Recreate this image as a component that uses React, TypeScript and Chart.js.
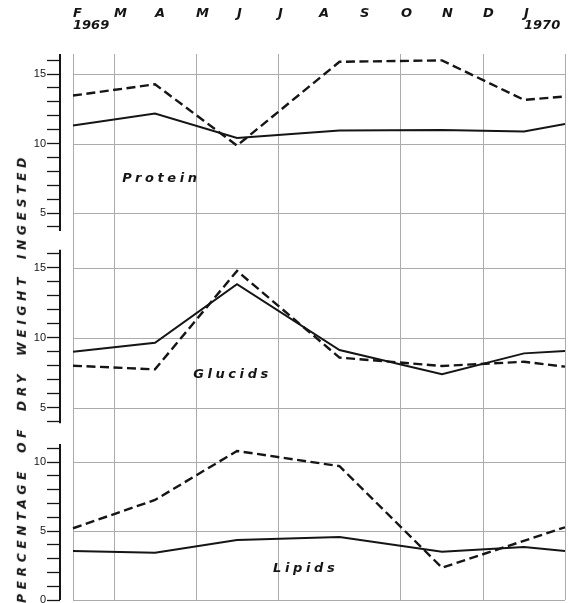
import React, { useEffect, useRef } from 'react';
import { Chart, registerables } from 'chart.js';

Chart.register(...registerables);

// ---- data ----
const MONTH_LABELS = ['F', 'M', 'A', 'M', 'J', 'J', 'A', 'S', 'O', 'N', 'D', 'J', ''];
const YEAR_LABELS = ['1969', '', '', '', '', '', '', '', '', '', '', '1970', ''];
const MONTH_TICKS = [0, 1, 2, 3, 4, 5, 6, 7, 8, 9, 10, 11, 12];
const GRID_MONTHS = [0, 1, 3, 5, 8, 10, 12];

const SAMPLE_X = [0, 2, 4, 6.5, 9, 11, 12];
const LIPID_DASHED_X = [0, 2, 4, 6.5, 9, 12];

const PROTEIN_SOLID = [11.3, 12.15, 10.4, 10.93, 10.98, 10.86, 11.4];
const PROTEIN_DASHED = [13.45, 14.26, 9.85, 15.88, 15.98, 13.14, 13.38];

const GLUCID_SOLID = [9.02, 9.66, 13.84, 9.14, 7.41, 8.9, 9.07];
const GLUCID_DASHED = [8.02, 7.76, 14.79, 8.6, 8.0, 8.3, 7.95];

const LIPID_SOLID = [3.55, 3.43, 4.35, 4.57, 3.5, 3.84, 3.55];
const LIPID_DASHED = [5.2, 7.25, 10.8, 9.7, 2.34, 5.27];

const PROTEIN_TICKS = [4, 5, 6, 7, 8, 9, 10, 11, 12, 13, 14, 15, 16];
const GLUCID_TICKS = [4, 5, 6, 7, 8, 9, 10, 11, 12, 13, 14, 15, 16];
const LIPID_TICKS = [0, 1, 2, 3, 4, 5, 6, 7, 8, 9, 10, 11];
const GRID_VALUES = [0, 5, 10, 15];

const TITLE = 'PERCENTAGE OF DRY WEIGHT INGESTED';

// ---- styles ----
const INK = '#151515';
const GRID = '#ababab';
const LABEL_FONT = '"DejaVu Sans", sans-serif';

const panelPlugin = {
  id: 'panelDecor',
  beforeDatasetsDraw(chart: any, _args: any, opts: any) {
    const { ctx, chartArea } = chart;
    const xs = chart.scales.x;
    const ys = chart.scales.y;
    const x0 = xs.getPixelForValue(0);
    ctx.save();
    ctx.strokeStyle = GRID;
    ctx.lineWidth = 1;
    for (const v of opts.hLines) {
      if (v < ys.min || v > ys.max) continue;
      const y = Math.round(ys.getPixelForValue(v)) + 0.5;
      ctx.beginPath();
      ctx.moveTo(x0, y);
      ctx.lineTo(chartArea.right, y);
      ctx.stroke();
    }
    ctx.strokeStyle = INK;
    ctx.lineWidth = 2;
    ctx.beginPath();
    ctx.moveTo(chartArea.left, ys.getPixelForValue(opts.axisMax));
    ctx.lineTo(chartArea.left, ys.getPixelForValue(opts.axisMin));
    ctx.stroke();
    ctx.font = `italic bold 13px ${LABEL_FONT}`;
    (ctx as any).letterSpacing = '3.6px';
    ctx.fillStyle = INK;
    ctx.textAlign = 'left';
    ctx.textBaseline = 'middle';
    ctx.fillText(opts.label, xs.getPixelForValue(opts.labelX), ys.getPixelForValue(opts.labelY));
    ctx.restore();
  },
};

type Spec = {
  solidX: number[];
  solid: number[];
  dashedX: number[];
  dashed: number[];
  ticks: number[];
  min: number;
  max: number;
  axisMin: number;
  axisMax: number;
  label: string;
  labelX: number;
  labelY: number;
  showMonths: boolean;
  padBottom: number;
};

function buildConfig(p: Spec): any {
  return {
    type: 'line',
    data: {
      datasets: [
        {
          data: p.solidX.map((x, i) => ({ x, y: p.solid[i] })),
          borderColor: INK,
          borderWidth: 2,
          pointRadius: 0,
          tension: 0,
          fill: false,
        },
        {
          data: p.dashedX.map((x, i) => ({ x, y: p.dashed[i] })),
          borderColor: INK,
          borderWidth: 2.4,
          borderDash: [9, 4.5],
          pointRadius: 0,
          tension: 0,
          fill: false,
        },
      ],
    },
    options: {
      animation: false,
      responsive: true,
      maintainAspectRatio: false,
      layout: { padding: { top: 0, left: 0, right: 3, bottom: p.padBottom } },
      plugins: {
        legend: { display: false },
        tooltip: { enabled: false },
        panelDecor: {
          hLines: GRID_VALUES,
          axisMin: p.axisMin,
          axisMax: p.axisMax,
          label: p.label,
          labelX: p.labelX,
          labelY: p.labelY,
        },
      },
      scales: {
        x: {
          type: 'linear',
          position: p.showMonths ? 'top' : 'bottom',
          min: -13 / 41,
          max: 12,
          afterBuildTicks: (s: any) => {
            s.ticks = MONTH_TICKS.map((v) => ({ value: v }));
          },
          afterFit: (s: any) => {
            s.height = p.showMonths ? 54 : 0;
            s.paddingLeft = 0;
            s.paddingRight = 0;
          },
          grid: {
            color: (c: any) => (c.tick && GRID_MONTHS.includes(c.tick.value) ? GRID : 'rgba(0,0,0,0)'),
            lineWidth: 1,
            drawTicks: false,
          },
          border: { display: false },
          ticks: {
            display: p.showMonths,
            autoSkip: false,
            maxRotation: 0,
            minRotation: 0,
            align: 'start',
            padding: 22,
            color: INK,
            font: { family: LABEL_FONT, size: 13, weight: 'bold', style: 'italic', lineHeight: '12px' },
            callback: (v: number) => {
              const i = Math.round(v);
              return [MONTH_LABELS[i] ?? '', YEAR_LABELS[i] ?? ''];
            },
          },
        },
        y: {
          type: 'linear',
          min: p.min,
          max: p.max,
          afterBuildTicks: (s: any) => {
            s.ticks = p.ticks.map((v) => ({ value: v }));
          },
          afterFit: (s: any) => {
            s.width = 60;
            s.paddingTop = 0;
            s.paddingBottom = 0;
          },
          grid: { drawOnChartArea: false, drawTicks: true, tickLength: 13, tickColor: INK, tickWidth: 1.3 },
          border: { display: false },
          ticks: {
            autoSkip: false,
            padding: 1,
            color: INK,
            font: { family: '"Liberation Sans", Arial, sans-serif', size: 11 },
            callback: (v: number) => (v % 5 === 0 ? String(v) : ''),
          },
        },
      },
    },
    plugins: [panelPlugin],
  };
}

const PANELS: { top: number; height: number; spec: Spec }[] = [
  {
    top: 0,
    height: 239,
    spec: {
      solidX: SAMPLE_X, solid: PROTEIN_SOLID, dashedX: SAMPLE_X, dashed: PROTEIN_DASHED,
      ticks: PROTEIN_TICKS, min: 3.13, max: 16.44, axisMin: 3.7, axisMax: 16.44,
      label: 'Protein', labelX: 1.2, labelY: 7.45, showMonths: true, padBottom: 0,
    },
  },
  {
    top: 239,
    height: 195,
    spec: {
      solidX: SAMPLE_X, solid: GLUCID_SOLID, dashedX: SAMPLE_X, dashed: GLUCID_DASHED,
      ticks: GLUCID_TICKS, min: 3.14, max: 17.07, axisMin: 3.9, axisMax: 16.3,
      label: 'Glucids', labelX: 2.93, labelY: 7.36, showMonths: false, padBottom: 0,
    },
  },
  {
    top: 434,
    height: 169,
    spec: {
      solidX: SAMPLE_X, solid: LIPID_SOLID, dashedX: LIPID_DASHED_X, dashed: LIPID_DASHED,
      ticks: LIPID_TICKS, min: 0, max: 12.03, axisMin: 0, axisMax: 11.3,
      label: 'Lipids', labelX: 4.88, labelY: 2.3, showMonths: false, padBottom: 3,
    },
  },
];

function Panel({ top, height, spec }: { top: number; height: number; spec: Spec }) {
  const ref = useRef<HTMLCanvasElement | null>(null);
  useEffect(() => {
    if (!ref.current) return;
    const chart = new Chart(ref.current, buildConfig(spec));
    return () => chart.destroy();
  }, []);
  return (
    <div style={{ position: 'absolute', left: 0, top, width: 568, height }}>
      <canvas ref={ref} />
    </div>
  );
}

export default function App() {
  return (
    <div style={{ position: 'absolute', left: 0, top: 0, width: 568, height: 603, background: '#fff', overflow: 'hidden' }}>
      {PANELS.map((p, i) => (
        <Panel key={i} top={p.top} height={p.height} spec={p.spec} />
      ))}
      <div
        style={{
          position: 'absolute',
          left: 22,
          top: 378,
          transform: 'translate(-50%, -50%) rotate(-90deg)',
          whiteSpace: 'nowrap',
          fontFamily: LABEL_FONT,
          fontWeight: 'bold',
          fontStyle: 'italic',
          fontSize: '12.3px',
          letterSpacing: '4.6px',
          wordSpacing: '5px',
          color: INK,
          lineHeight: 1,
        }}
      >
        {TITLE}
      </div>
    </div>
  );
}
